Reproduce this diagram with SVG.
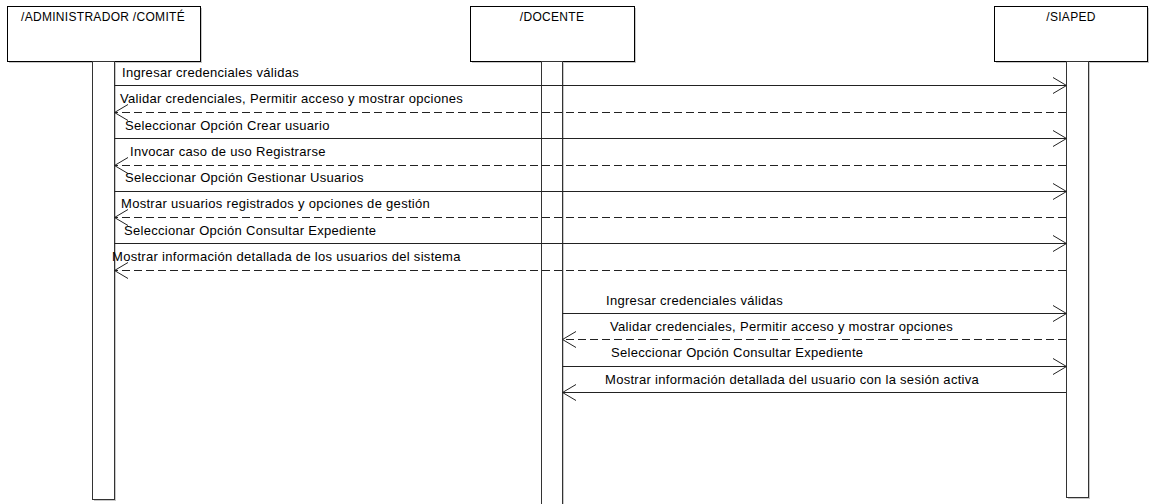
<svg xmlns="http://www.w3.org/2000/svg" width="1151" height="504" viewBox="0 0 1151 504">
<style>
.box{fill:#fff;stroke:#000;stroke-width:1}
.shadow{fill:#c8c8c8;stroke:none}
.act{fill:#fff;stroke:#333;stroke-width:1}
.t{font-family:"Liberation Sans",Arial,sans-serif;font-size:13px;letter-spacing:0.3px;fill:#000}
.h{font-family:"Liberation Sans",Arial,sans-serif;font-size:12px;letter-spacing:0.3px;fill:#000}
.msg{stroke:#222;stroke-width:1;fill:none}
.ret{stroke:#222;stroke-width:1;fill:none;stroke-dasharray:8 4}
.head{stroke:#222;stroke-width:1;fill:none}
</style>
<rect width="1151" height="504" fill="#fff"/>
<g id="admin">
<rect class="shadow" x="9" y="8" width="193" height="55"/>
<rect class="box" x="7.5" y="6.5" width="193" height="55"/>
<text class="h" x="103" y="21" text-anchor="middle">/ADMINISTRADOR /COMITÉ</text>
<rect class="shadow" x="94" y="63" width="22" height="438"/>
<rect class="act" x="92.5" y="61.5" width="22" height="438"/>
</g>
<g id="docente">
<rect class="shadow" x="472" y="8" width="164" height="55"/>
<rect class="box" x="470.5" y="6.5" width="164" height="55"/>
<text class="h" x="552" y="21" text-anchor="middle">/DOCENTE</text>
<rect class="shadow" x="543" y="63" width="21" height="450"/>
<rect class="act" x="541.5" y="61.5" width="21" height="450"/>
</g>
<g id="siaped">
<rect class="shadow" x="996" y="8" width="153" height="55"/>
<rect class="box" x="994.5" y="6.5" width="153" height="55"/>
<text class="h" x="1071" y="21" text-anchor="middle">/SIAPED</text>
<rect class="shadow" x="1068" y="63" width="22" height="436"/>
<rect class="act" x="1066.5" y="61.5" width="22" height="436"/>
</g>
<g id="connectors">
<line class="msg" x1="114.5" y1="85.5" x2="1066.5" y2="85.5"/>
<polyline class="head" points="1053,77.5 1066.5,85.5 1053,93.5"/>
<text class="t" x="122" y="77">Ingresar credenciales válidas</text>

<line class="ret" x1="1066" y1="112.5" x2="114.5" y2="112.5"/>
<polyline class="head" points="128,104.5 114.5,112.5 128,120.5"/>
<text class="t" x="120" y="103">Validar credenciales, Permitir acceso y mostrar opciones</text>

<line class="msg" x1="114.5" y1="138.5" x2="1066.5" y2="138.5"/>
<polyline class="head" points="1053,130.5 1066.5,138.5 1053,146.5"/>
<text class="t" x="125" y="130">Seleccionar Opción Crear usuario</text>

<line class="ret" x1="1066" y1="165.5" x2="114.5" y2="165.5"/>
<polyline class="head" points="128,157.5 114.5,165.5 128,173.5"/>
<text class="t" x="130" y="156">Invocar caso de uso Registrarse</text>

<line class="msg" x1="114.5" y1="191.5" x2="1066.5" y2="191.5"/>
<polyline class="head" points="1053,183.5 1066.5,191.5 1053,199.5"/>
<text class="t" x="125" y="182">Seleccionar Opción Gestionar Usuarios</text>

<line class="ret" x1="1066" y1="217.5" x2="114.5" y2="217.5"/>
<polyline class="head" points="128,209.5 114.5,217.5 128,225.5"/>
<text class="t" x="121" y="208">Mostrar usuarios registrados y opciones de gestión</text>

<line class="msg" x1="114.5" y1="243.5" x2="1066.5" y2="243.5"/>
<polyline class="head" points="1053,235.5 1066.5,243.5 1053,251.5"/>
<text class="t" x="124" y="235">Seleccionar Opción Consultar Expediente</text>

<line class="ret" x1="1066" y1="270.5" x2="114.5" y2="270.5"/>
<polyline class="head" points="128,262.5 114.5,270.5 128,278.5"/>
<text class="t" x="112" y="261">Mostrar información detallada de los usuarios del sistema</text>

<line class="msg" x1="562.5" y1="313.5" x2="1066.5" y2="313.5"/>
<polyline class="head" points="1053,305.5 1066.5,313.5 1053,321.5"/>
<text class="t" x="606" y="305">Ingresar credenciales válidas</text>

<line class="ret" x1="1066" y1="339.5" x2="562.5" y2="339.5"/>
<polyline class="head" points="576,331.5 562.5,339.5 576,347.5"/>
<text class="t" x="610" y="331">Validar credenciales, Permitir acceso y mostrar opciones</text>

<line class="msg" x1="562.5" y1="366.5" x2="1066.5" y2="366.5"/>
<polyline class="head" points="1053,358.5 1066.5,366.5 1053,374.5"/>
<text class="t" x="611" y="357">Seleccionar Opción Consultar Expediente</text>

<line class="msg" x1="1066" y1="392.5" x2="562.5" y2="392.5"/>
<polyline class="head" points="576,384.5 562.5,392.5 576,400.5"/>
<text class="t" x="605" y="384">Mostrar información detallada del usuario con la sesión activa</text>
</g>
</svg>
